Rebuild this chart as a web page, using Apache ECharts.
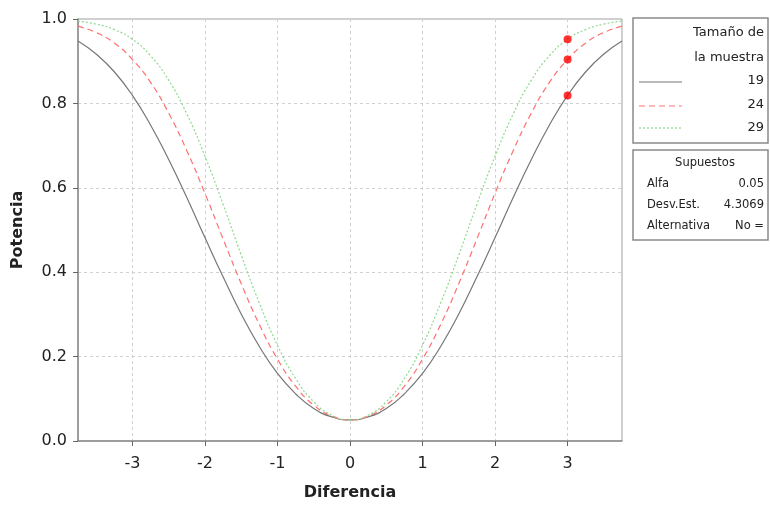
<!DOCTYPE html>
<html>
<head>
<meta charset="utf-8">
<script src="https://cdn.jsdelivr.net/npm/echarts@6/dist/echarts.min.js"></script>
<style>html,body{margin:0;padding:0;background:#fff}#c{width:770px;height:506px}</style>
</head>
<body>
<div id="c"></div>
<script>
// Differences (x)
var diffs = [-3.75,-3.5,-3.25,-3,-2.75,-2.5,-2.25,-2,-1.75,-1.5,-1.25,-1,-0.75,-0.5,-0.25,0,0.25,0.5,0.75,1,1.25,1.5,1.75,2,2.25,2.5,2.75,3,3.25,3.5,3.75];
// Power for sample size 19
var power19 = [0.948,0.917,0.875,0.819,0.749,0.667,0.577,0.482,0.389,0.301,0.224,0.160,0.112,0.077,0.057,0.050,0.057,0.077,0.112,0.160,0.224,0.301,0.389,0.482,0.577,0.667,0.749,0.819,0.875,0.917,0.948];
// Power for sample size 24
var power24 = [0.983,0.968,0.943,0.904,0.850,0.777,0.688,0.587,0.479,0.373,0.276,0.194,0.130,0.085,0.059,0.050,0.059,0.085,0.130,0.194,0.276,0.373,0.479,0.587,0.688,0.777,0.850,0.904,0.943,0.968,0.983];
// Power for sample size 29
var power29 = [0.995,0.988,0.975,0.952,0.913,0.855,0.775,0.675,0.561,0.441,0.327,0.227,0.148,0.093,0.061,0.050,0.061,0.093,0.148,0.227,0.327,0.441,0.561,0.675,0.775,0.855,0.913,0.952,0.975,0.988,0.995];
// Marked points at difference 3
var pointX = [3, 3, 3];
var pointY = [0.819, 0.904, 0.952];
var xTicks = [-3,-2,-1,0,1,2,3];
var sizes = ['19','24','29'];
var assumptions = [['Alfa','0.05'],['Desv.Est.','4.3069'],['Alternativa','No =']];

function pairs(xs, ys){ return xs.map(function(x,i){ return [x, ys[i]]; }); }

var chart = echarts.init(document.getElementById('c'));
var font = 'DejaVu Sans';
var graphics = [
  {type:'rect', shape:{x:633,y:18,width:135,height:125}, style:{fill:'#fff', stroke:'#8a8a8a', lineWidth:1.5}},
  {type:'text', style:{text:'Tamaño de', x:764, y:33, align:'right', verticalAlign:'middle', font:'13px '+font, fill:'#222'}},
  {type:'text', style:{text:'la muestra', x:764, y:58, align:'right', verticalAlign:'middle', font:'13px '+font, fill:'#222'}},
  {type:'line', shape:{x1:639,y1:82,x2:682,y2:82}, style:{stroke:'#777', lineWidth:1.2}},
  {type:'line', shape:{x1:639,y1:106,x2:682,y2:106}, style:{stroke:'#ff7070', lineWidth:1.2, lineDash:[6,4]}},
  {type:'line', shape:{x1:639,y1:128,x2:682,y2:128}, style:{stroke:'#90d890', lineWidth:1.2, lineDash:[2,2]}},
  {type:'rect', shape:{x:633,y:150,width:135,height:90}, style:{fill:'#fff', stroke:'#8a8a8a', lineWidth:1.5}},
  {type:'text', style:{text:'Supuestos', x:705, y:163, align:'center', verticalAlign:'middle', font:'11.5px '+font, fill:'#222'}}
];
var ly = [81, 105, 128];
sizes.forEach(function(s,i){
  graphics.push({type:'text', style:{text:s, x:764, y:ly[i], align:'right', verticalAlign:'middle', font:'13px '+font, fill:'#222'}});
});
var ay = [184, 205, 226];
assumptions.forEach(function(a,i){
  graphics.push({type:'text', style:{text:a[0], x:647, y:ay[i], align:'left', verticalAlign:'middle', font:'11.5px '+font, fill:'#222'}});
  graphics.push({type:'text', style:{text:a[1], x:764, y:ay[i], align:'right', verticalAlign:'middle', font:'11.5px '+font, fill:'#222'}});
});

chart.setOption({
  animation:false,
  grid:{left:78, top:19, right:148, bottom:65, show:true, borderColor:'#a0a0a0', borderWidth:1, backgroundColor:'#fff'},
  xAxis:{
    type:'value', min:-3.75, max:3.75,
    name:'Diferencia', nameLocation:'middle', nameGap:44,
    nameTextStyle:{fontFamily:font, fontWeight:'bold', fontSize:16, color:'#222'},
    axisLine:{onZero:false, lineStyle:{color:'#8c8c8c', width:1.5}},
    axisTick:{customValues:xTicks, length:5, lineStyle:{color:'#666'}},
    axisLabel:{customValues:xTicks, fontFamily:font, fontSize:16, color:'#222', margin:15},
    splitLine:{show:true, lineStyle:{color:'#d0d0d0', type:[3,3]}}
  },
  yAxis:{
    type:'value', min:0, max:1, interval:0.2,
    name:'Potencia', nameLocation:'middle', nameGap:52,
    nameTextStyle:{fontFamily:font, fontWeight:'bold', fontSize:16, color:'#222'},
    axisLine:{show:true, onZero:false, lineStyle:{color:'#8c8c8c', width:1.5}},
    axisTick:{show:true, length:5, lineStyle:{color:'#666'}},
    axisLabel:{fontFamily:font, fontSize:16, color:'#222', margin:11, formatter:function(v){return v.toFixed(1);}},
    splitLine:{show:true, lineStyle:{color:'#d0d0d0', type:[3,3]}}
  },
  series:[
    {type:'line', name:'19', data:pairs(diffs, power19), smooth:true, showSymbol:false, lineStyle:{color:'#777', width:1.2}},
    {type:'line', name:'24', data:pairs(diffs, power24), smooth:true, showSymbol:false, lineStyle:{color:'#ff7070', width:1.2, type:[6,4]}},
    {type:'line', name:'29', data:pairs(diffs, power29), smooth:true, showSymbol:false, lineStyle:{color:'#90d890', width:1.2, type:[2,2]}},
    {type:'scatter', data:pairs(pointX, pointY), symbolSize:8, itemStyle:{color:'#ff0000'}, z:5}
  ],
  graphic:graphics
});
</script>
</body>
</html>
